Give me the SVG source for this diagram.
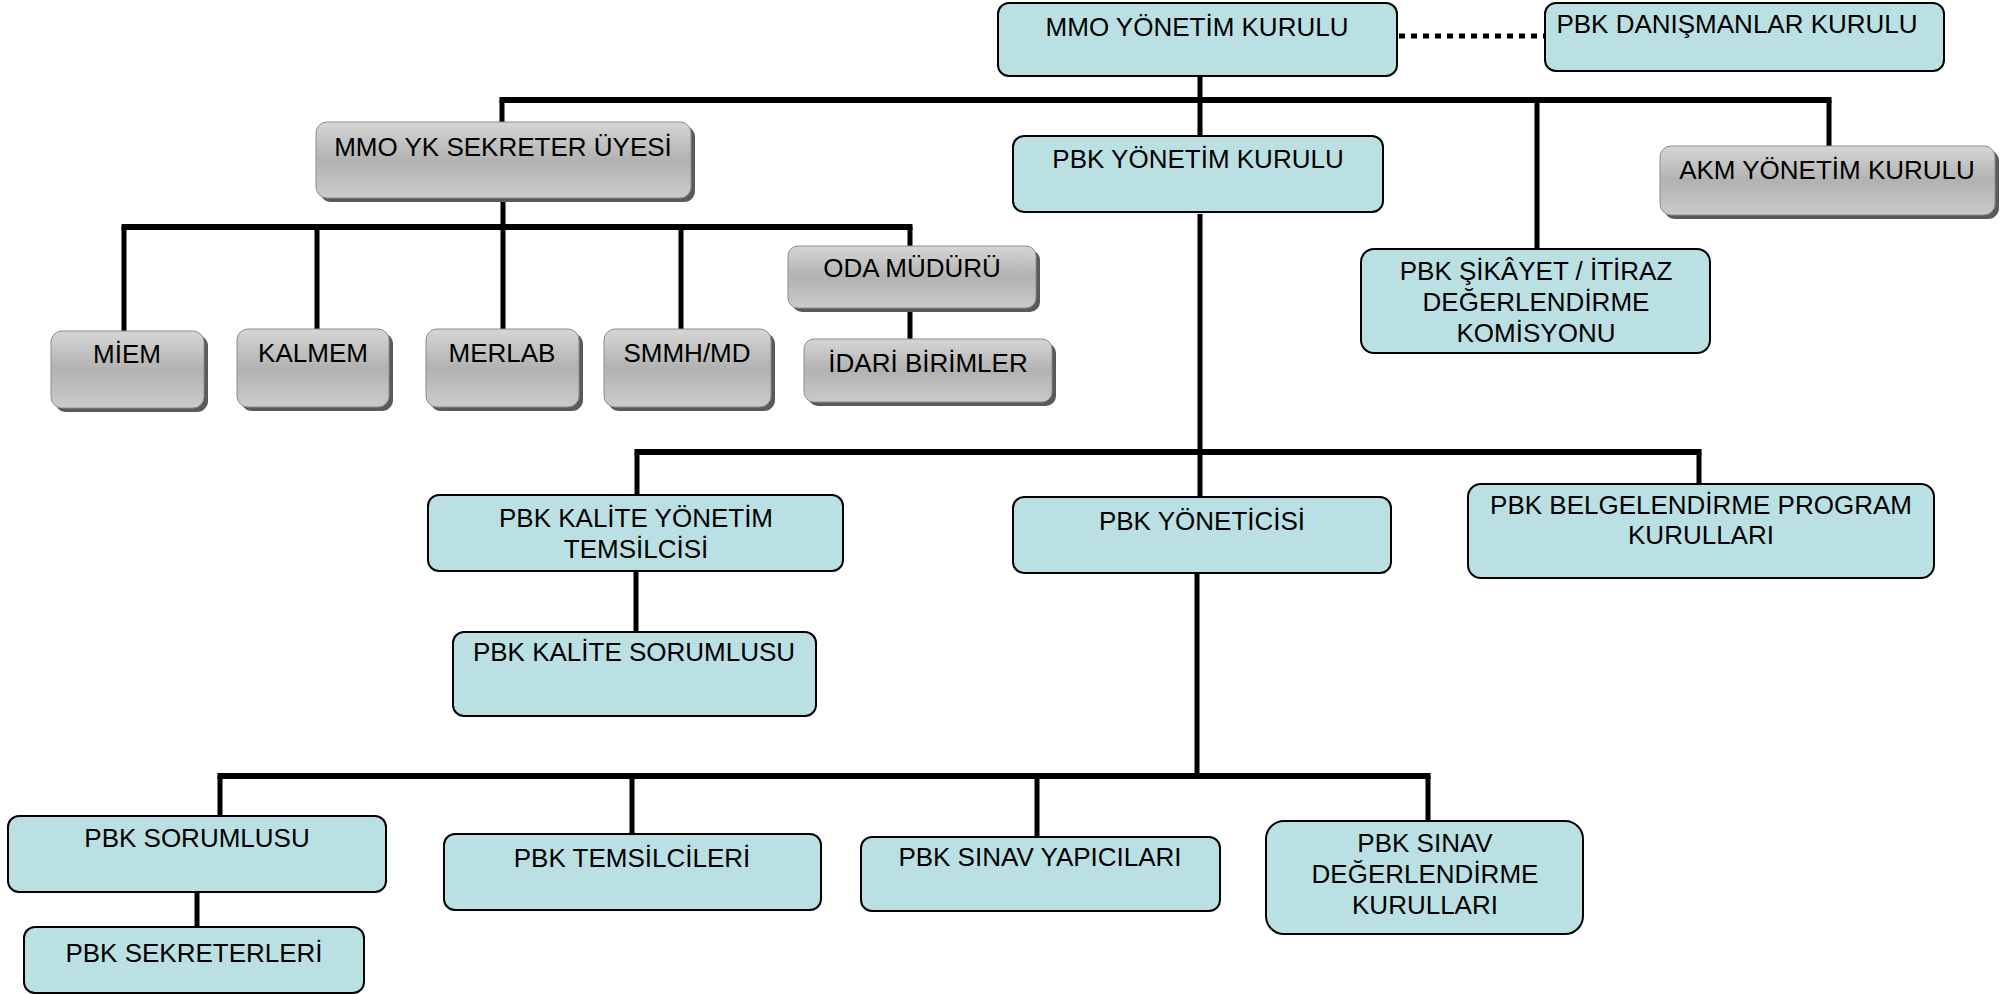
<svg xmlns="http://www.w3.org/2000/svg" width="2011" height="994" viewBox="0 0 2011 994">
<defs>
<linearGradient id="gray" x1="0" y1="0" x2="0" y2="1">
<stop offset="0" stop-color="#d6d6d6"/>
<stop offset="0.5" stop-color="#b2b2b2"/>
<stop offset="1" stop-color="#cbcbcb"/>
</linearGradient>
</defs>
<style>
.blue{fill:#bae0e3;stroke:#000;stroke-width:2}
.grey{fill:url(#gray);stroke:#8c8c8c;stroke-width:1}
.shadow{fill:#5a5a5a}
text{font-family:"Liberation Sans",Arial,sans-serif;font-size:26px;fill:#000;text-anchor:middle}
.bus{stroke:#000;stroke-width:6;fill:none}
.ln{stroke:#000;stroke-width:5;fill:none}
.dot{stroke:#000;stroke-width:5;stroke-dasharray:6 6;fill:none}
</style>
<rect width="2011" height="994" fill="#fff"/>
<g id="connectors">
<line class="ln" x1="1200" y1="76" x2="1200" y2="136"/>
<line class="bus" x1="499.5" y1="100" x2="1831.5" y2="100"/>
<line class="ln" x1="502" y1="100" x2="502" y2="122"/>
<line class="ln" x1="1537" y1="100" x2="1537" y2="249"/>
<line class="ln" x1="1829" y1="100" x2="1829" y2="146"/>
<line class="ln" x1="503" y1="198" x2="503" y2="329"/>
<line class="bus" x1="121.5" y1="227" x2="912.5" y2="227"/>
<line class="ln" x1="124" y1="227" x2="124" y2="331"/>
<line class="ln" x1="317" y1="227" x2="317" y2="329"/>
<line class="ln" x1="681" y1="227" x2="681" y2="329"/>
<line class="ln" x1="910" y1="227" x2="910" y2="246"/>
<line class="ln" x1="910" y1="308" x2="910" y2="339"/>
<line class="ln" x1="1200" y1="214" x2="1200" y2="497"/>
<line class="bus" x1="634.5" y1="452" x2="1701.5" y2="452"/>
<line class="ln" x1="637" y1="452" x2="637" y2="495"/>
<line class="ln" x1="1699" y1="452" x2="1699" y2="484"/>
<line class="ln" x1="636" y1="571" x2="636" y2="632"/>
<line class="ln" x1="1197" y1="573" x2="1197" y2="776"/>
<line class="bus" x1="217.5" y1="776" x2="1430.5" y2="776"/>
<line class="ln" x1="220" y1="776" x2="220" y2="816"/>
<line class="ln" x1="197" y1="892" x2="197" y2="927"/>
<line class="ln" x1="632" y1="776" x2="632" y2="834"/>
<line class="ln" x1="1037" y1="776" x2="1037" y2="837"/>
<line class="ln" x1="1428" y1="776" x2="1428" y2="821"/>
<line class="dot" x1="1399" y1="36" x2="1545" y2="36"/>
</g>
<g id="mmo-yk"><rect class="blue" x="998" y="3" width="399" height="73" rx="11"/><text x="1197" y="36">MMO YÖNETİM KURULU</text></g>
<g id="pbk-danismanlar"><rect class="blue" x="1545" y="3" width="399" height="68" rx="11"/><text x="1737" y="33">PBK DANIŞMANLAR KURULU</text></g>
<g id="pbk-yk"><rect class="blue" x="1013" y="136" width="370" height="76" rx="11"/><text x="1198" y="168">PBK YÖNETİM KURULU</text></g>
<g id="pbk-sikayet"><rect class="blue" x="1361" y="249" width="349" height="104" rx="13"/><text x="1536" y="280">PBK ŞİKÂYET / İTİRAZ</text><text x="1536" y="311">DEĞERLENDİRME</text><text x="1536" y="342">KOMİSYONU</text></g>
<g id="pbk-kalite-ytem"><rect class="blue" x="428" y="495" width="415" height="76" rx="11"/><text x="636" y="527">PBK KALİTE YÖNETİM</text><text x="636" y="558">TEMSİLCİSİ</text></g>
<g id="pbk-kalite-sor"><rect class="blue" x="453" y="632" width="363" height="84" rx="11"/><text x="634" y="661">PBK KALİTE SORUMLUSU</text></g>
<g id="pbk-yonetici"><rect class="blue" x="1013" y="497" width="378" height="76" rx="11"/><text x="1202" y="530">PBK YÖNETİCİSİ</text></g>
<g id="pbk-belgelendirme"><rect class="blue" x="1468" y="484" width="466" height="94" rx="13"/><text x="1701" y="514">PBK BELGELENDİRME PROGRAM</text><text x="1701" y="544">KURULLARI</text></g>
<g id="pbk-sorumlusu"><rect class="blue" x="8" y="816" width="378" height="76" rx="11"/><text x="197" y="847">PBK SORUMLUSU</text></g>
<g id="pbk-sekreterleri"><rect class="blue" x="24" y="927" width="340" height="66" rx="11"/><text x="194" y="962">PBK SEKRETERLERİ</text></g>
<g id="pbk-temsilcileri"><rect class="blue" x="444" y="834" width="377" height="76" rx="11"/><text x="632" y="867">PBK TEMSİLCİLERİ</text></g>
<g id="pbk-sinav-yapicilari"><rect class="blue" x="861" y="837" width="359" height="74" rx="11"/><text x="1040" y="866">PBK SINAV YAPICILARI</text></g>
<g id="pbk-sinav-deg"><rect class="blue" x="1266" y="821" width="317" height="113" rx="18"/><text x="1425" y="852">PBK SINAV</text><text x="1425" y="883">DEĞERLENDİRME</text><text x="1425" y="914">KURULLARI</text></g>
<g id="mmo-yk-sekreter"><rect class="shadow" x="320" y="126" width="375" height="76" rx="11"/><rect class="grey" x="316" y="122" width="375" height="76" rx="11"/><text x="503" y="156">MMO YK SEKRETER ÜYESİ</text></g>
<g id="miem"><rect class="shadow" x="55" y="335" width="153" height="77" rx="11"/><rect class="grey" x="51" y="331" width="153" height="77" rx="11"/><text x="127" y="363">MİEM</text></g>
<g id="kalmem"><rect class="shadow" x="241" y="333" width="152" height="78" rx="11"/><rect class="grey" x="237" y="329" width="152" height="78" rx="11"/><text x="313" y="362">KALMEM</text></g>
<g id="merlab"><rect class="shadow" x="430" y="333" width="153" height="78" rx="11"/><rect class="grey" x="426" y="329" width="153" height="78" rx="11"/><text x="502" y="362">MERLAB</text></g>
<g id="smmh"><rect class="shadow" x="608" y="333" width="167" height="78" rx="11"/><rect class="grey" x="604" y="329" width="167" height="78" rx="11"/><text x="687" y="362">SMMH/MD</text></g>
<g id="oda-muduru"><rect class="shadow" x="792" y="250" width="248" height="62" rx="10"/><rect class="grey" x="788" y="246" width="248" height="62" rx="10"/><text x="912" y="277">ODA MÜDÜRÜ</text></g>
<g id="idari-birimler"><rect class="shadow" x="808" y="343" width="248" height="63" rx="10"/><rect class="grey" x="804" y="339" width="248" height="63" rx="10"/><text x="928" y="372">İDARİ BİRİMLER</text></g>
<g id="akm-yk"><rect class="shadow" x="1664" y="150" width="335" height="69" rx="11"/><rect class="grey" x="1660" y="146" width="335" height="69" rx="11"/><text x="1827" y="179">AKM YÖNETİM KURULU</text></g>
</svg>
